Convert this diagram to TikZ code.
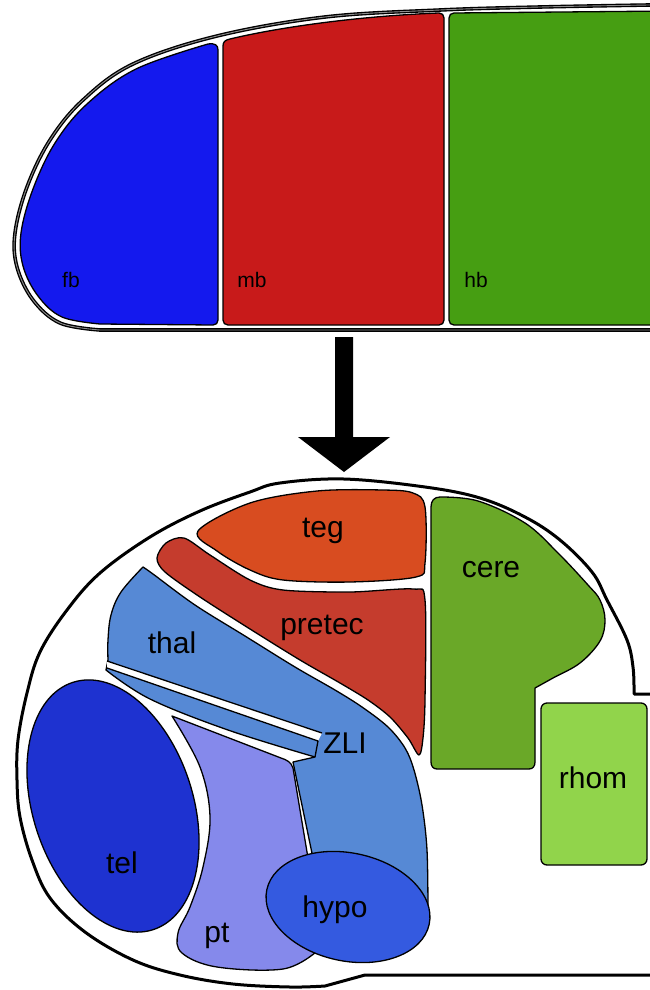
\documentclass[tikz,border=0pt]{standalone}
\usepackage{fontspec}
\setmainfont{Liberation Sans}
\usetikzlibrary{calc}
\definecolor{fbblue}{RGB}{20,25,238}
\definecolor{mbred}{RGB}{200,26,26}
\definecolor{hbgreen}{RGB}{70,158,18}
\definecolor{tegorange}{RGB}{216,76,32}
\definecolor{pretecred}{RGB}{197,60,45}
\definecolor{thalblue}{RGB}{86,137,213}
\definecolor{telblue}{RGB}{30,50,208}
\definecolor{ptviolet}{RGB}{133,137,235}
\definecolor{hypoblue}{RGB}{52,90,224}
\definecolor{ceregreen}{RGB}{106,168,40}
\definecolor{rhomgreen}{RGB}{145,212,75}
\begin{document}
\begin{tikzpicture}[x=1pt,y=-1pt,
  region/.style={draw=black, line width=1.3pt, line join=round},
  tubeline/.style={draw=black, line width=3.6pt, line join=round},
  tubecore/.style={draw=black!45, line width=0.9pt, line join=round},
  brainline/.style={draw=black, line width=3pt, line join=round},
  lbl/.style={font=\fontsize{30}{31}\selectfont, text=black, anchor=base, inner sep=0pt},
  smalllbl/.style={font=\fontsize{21}{22}\selectfont, text=black, anchor=base, inner sep=0pt}]
\useasboundingbox (0,0) rectangle (649,990);

% ---------- neural tube: forebrain, midbrain, hindbrain ----------
\filldraw[region, fill=fbblue] (218,50) -- (218,320) .. controls (218,323) and (216,325) .. (213,325)
  -- plot[smooth, tension=0.6] coordinates {(100,324) (62,317) (38,296) (23,266) (21,233) (33,189) (55,143) (87,104) (136,69) (208,44)}
  .. controls (215,43) and (218,45) .. (218,50) -- cycle;
\filldraw[region, fill=mbred] (228,325) -- (439,325) .. controls (442,325) and (444,323) .. (444,320)
  -- (444,18) .. controls (444,15) and (442,13) .. (439,13)
  .. controls (360,16) and (280,27) .. (230,39) .. controls (225,40) and (223,42) .. (223,46)
  -- (223,320) .. controls (223,323) and (225,325) .. (228,325) -- cycle;
\filldraw[region, fill=hbgreen] (454,325) -- (670,325) -- (670,11) -- (454,13)
  .. controls (451,13) and (449,15) .. (449,18) -- (449,320) .. controls (449,323) and (451,325) .. (454,325) -- cycle;

% tube wall
\path[tubeline] (670,4) -- plot[smooth, tension=0.6] coordinates {(649,5) (540,7) (440,10) (325,17) (217,36) (133,64) (83,100) (50,140) (27,187) (15,233) (17,267) (33,300) (60,323) (100,330)} -- (670,330);
\path[tubecore] (670,4) -- plot[smooth, tension=0.6] coordinates {(649,5) (540,7) (440,10) (325,17) (217,36) (133,64) (83,100) (50,140) (27,187) (15,233) (17,267) (33,300) (60,323) (100,330)} -- (670,330);

\node[smalllbl] (fb) at (71,287) {fb};
\node[smalllbl] (mb) at (252,287) {mb};
\node[smalllbl] (hb) at (476,287) {hb};

% ---------- arrow ----------
\coordinate (arrowtop) at (344,337);
\coordinate (arrowtip) at (344,472);
\fill[black] ($(arrowtop)+(-9,0)$) -- ($(arrowtop)+(9,0)$) -- ($(arrowtip)+(9,-35)$) -- ($(arrowtip)+(46,-35)$)
  -- (arrowtip) -- ($(arrowtip)+(-46,-35)$) -- ($(arrowtip)+(-9,-35)$) -- cycle;

% ---------- brain subdivisions ----------
% tegmentum
\filldraw[region, fill=tegorange] plot[smooth cycle, tension=0.55] coordinates {(198,531) (250,503) (317,491) (383,490) (413,493) (425,507) (425,563) (416,577) (350,582) (283,580) (250,570) (217,551)};
% pretectum
\filldraw[region, fill=pretecred] plot[smooth cycle, tension=0.5] coordinates {(157,558) (166,543) (184,538) (210,555) (250,580) (283,590) (350,592) (413,589) (425,600) (425,700) (423,738) (419,755) (408,738) (390,717) (368,700) (340,683) (300,660) (250,629) (200,597) (165,572)};
% cerebellum
\filldraw[region, fill=ceregreen] (431,507) -- (431,762) .. controls (431,766) and (433,769) .. (437,769)
  -- (529,769) .. controls (533,769) and (535,766) .. (535,762) -- (535,690)
  -- plot[smooth, tension=0.6] coordinates {(535,688) (553,678) (580,663) (600,641) (605,620) (600,600) (588,585) (558,553) (525,523) (478,501) (440,497)}
  .. controls (434,497) and (431,501) .. (431,507) -- cycle;
% rhombencephalon
\filldraw[region, fill=rhomgreen, rounded corners=6] (541,703) rectangle (647,865);
% posterior tuberculum
\filldraw[region, fill=ptviolet] (172,716) -- (281,758) .. controls (287,760) and (291,762) .. (293,768)
  -- (315,900) -- (321,942)
  -- plot[smooth, tension=0.6] coordinates {(316,952) (283,969) (217,967) (182,953) (178,933) (190,907) (203,867) (210,817) (200,767) (172,716)} -- cycle;
% thalamus with the lower band of the ZLI
\filldraw[region, fill=thalblue] plot[smooth, tension=0.55] coordinates {(143,567) (153,574) (195,605) (245,636) (295,667) (335,690) (362,707) (388,727) (405,748) (414,770) (422,805) (427,850) (428,912)}
  -- (400,920) -- (330,910) -- (318,890) -- (313,858) -- (293,762) -- (315,757)
  -- plot[smooth, tension=0.6] coordinates {(315,757) (228,730) (150,699) (106,670)}
  -- (108,660) -- plot[smooth, tension=0.6] coordinates {(108,660) (108,640) (111,615) (121,592) (143,567)} -- cycle;
% zona limitans slit
\fill[white] (107,661) -- (322,733) -- (318,741) -- (107,668) -- cycle;
\draw[region] (107,661) -- (322,733);
\draw[region] (107,668) -- (318,741) -- (315,757);
% telencephalon
\filldraw[region, fill=telblue, rotate around={18:(113,806)}] (113,806) ellipse [x radius=80, y radius=130];
% hypothalamus
\filldraw[region, fill=hypoblue, rotate around={-12:(348,907)}] (348,907) ellipse [x radius=83, y radius=54];

% brain wall
\draw[brainline] (670,694) -- (634,694) -- plot[smooth, tension=0.6] coordinates {(634,690) (633,667) (627,640) (607,600) (592,572) (560,540) (525,517) (480,498) (425,487) (344,479) (280,483) (250,492) (200,511) (150,537) (100,573) (67,610) (40,652) (27,693) (18,740) (17,780) (20,817) (32,860) (50,898) (85,932) (133,960) (180,975) (233,984) (290,987) (325,986)} -- (365,975) -- (670,975);

% labels
\node[lbl] (teg) at (323,537) {teg};
\node[lbl] (pretec) at (322,634) {pretec};
\node[lbl] (thal) at (172,653) {thal};
\node[lbl] (zli) at (345,753) {ZLI};
\node[lbl] (cere) at (491,577) {cere};
\node[lbl] (rhom) at (593,788) {rhom};
\node[lbl] (tel) at (122,873) {tel};
\node[lbl] (pt) at (217,942) {pt};
\node[lbl] (hypo) at (335,917) {hypo};
\end{tikzpicture}
\end{document}
